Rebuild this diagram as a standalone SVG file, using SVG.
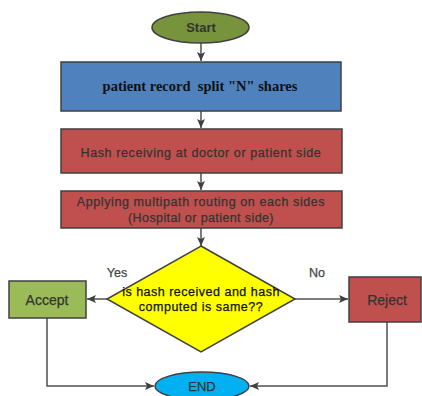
<svg xmlns="http://www.w3.org/2000/svg" width="422" height="396" viewBox="0 0 422 396">
<defs>
<marker id="ah" markerWidth="10" markerHeight="10" refX="9" refY="5" orient="auto" markerUnits="userSpaceOnUse">
<path d="M0,1 L9,5 L0,9 L2,5 Z" fill="#404040"/>
</marker>
<style>
.sh{stroke:#404040;stroke-width:1.5}
.t{font-family:"Liberation Sans",Arial,sans-serif;font-size:12.5px;fill:#333;stroke:#333;stroke-width:0.25;text-anchor:middle}
.c{fill:none;stroke:#505050;stroke-width:1.5}
</style>
</defs>
<rect width="422" height="396" fill="#ffffff"/>
<g id="connectors">
<line class="c" x1="201" y1="43" x2="201" y2="61" marker-end="url(#ah)"/>
<line class="c" x1="201" y1="111" x2="201" y2="128" marker-end="url(#ah)"/>
<line class="c" x1="201" y1="173" x2="201" y2="190" marker-end="url(#ah)"/>
<line class="c" x1="201" y1="228" x2="201" y2="246" marker-end="url(#ah)"/>
<line class="c" x1="107" y1="299" x2="87" y2="299" marker-end="url(#ah)"/>
<line class="c" x1="295" y1="299" x2="348" y2="299" marker-end="url(#ah)"/>
<polyline class="c" points="47,318 47,386 154,386" marker-end="url(#ah)"/>
<polyline class="c" points="387,322 387,386 250,386" marker-end="url(#ah)"/>
<text class="t" x="117" y="277" style="fill:#444;stroke:#444">Yes</text>
<text class="t" x="317" y="277" style="fill:#444;stroke:#444">No</text>
</g>
<g id="start">
<ellipse class="sh" cx="200.5" cy="27.5" rx="48.5" ry="15.5" fill="#77933c"/>
<text class="t" x="201" y="32" style="font-weight:bold;font-size:13px;stroke-width:0">Start</text>
</g>
<g id="split">
<rect class="sh" x="61" y="62" width="280" height="49" fill="#4f81bd"/>
<text x="200" y="91" xml:space="preserve" style="font-family:'Liberation Serif','Times New Roman',serif;font-size:14.5px;font-weight:bold;fill:#111;text-anchor:middle;white-space:pre">patient record  split "N" shares</text>
</g>
<g id="hash">
<rect class="sh" x="61" y="129" width="281" height="44" fill="#c0504d"/>
<text class="t" x="201" y="157" style="letter-spacing:0.6px">Hash receiving at doctor or patient side</text>
</g>
<g id="routing">
<rect class="sh" x="61" y="191" width="281" height="37" fill="#c0504d"/>
<text class="t" x="201" y="206" style="letter-spacing:0.6px">Applying multipath routing on each sides</text>
<text class="t" x="201" y="222" style="letter-spacing:0.4px">(Hospital or patient side)</text>
</g>
<g id="decision">
<polygon class="sh" points="201,246 295,299 201,352 107,299" fill="#ffff00"/>
<text class="t" x="201" y="296" style="fill:#111;stroke:#111;letter-spacing:0.5px">is hash received and hash</text>
<text class="t" x="201" y="311" style="fill:#111;stroke:#111;letter-spacing:0.5px">computed is same??</text>
</g>
<g id="accept">
<rect class="sh" x="9" y="281" width="77" height="37" fill="#9bbb59"/>
<text class="t" x="47" y="305" style="font-size:14px">Accept</text>
</g>
<g id="reject">
<rect class="sh" x="349" y="277" width="72" height="45" fill="#c0504d"/>
<text class="t" x="387" y="305" style="font-size:14px">Reject</text>
</g>
<g id="end">
<ellipse class="sh" cx="202" cy="386" rx="47" ry="14" fill="#00b0f0"/>
<text class="t" x="202" y="391" style="font-size:13px">END</text>
</g>
</svg>
